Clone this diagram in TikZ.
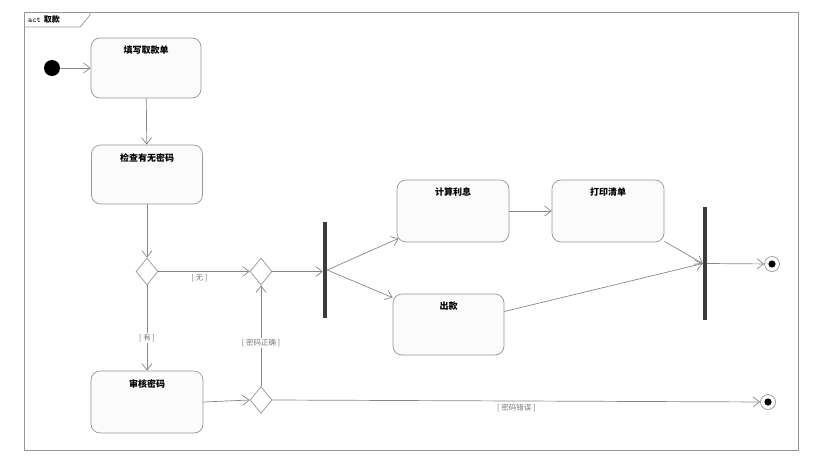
\documentclass[tikz,border=0pt]{standalone}
\usepackage{fontspec}
\newfontfamily\cjk{Noto Sans CJK SC}
\usetikzlibrary{shapes.geometric,arrows.meta}
\definecolor{edgec}{RGB}{135,135,135}
\definecolor{boxc}{RGB}{150,150,150}
\definecolor{fillc}{RGB}{251,251,251}
\definecolor{barc}{RGB}{60,60,60}
\definecolor{guardc}{RGB}{120,120,120}
\tikzset{
  actbox/.style={draw=boxc, fill=fillc, rounded corners=9pt, line width=0.7pt, inner sep=0pt},
  acttitle/.style={font=\cjk\bfseries\fontsize{9}{10}\selectfont, anchor=north, yshift=-5pt},
  decision/.style={draw=boxc, fill=white, diamond, inner sep=0pt, minimum width=22pt, minimum height=27pt, line width=0.7pt},
  bar/.style={fill=barc, draw=none, inner sep=0pt, minimum width=4pt},
  flow/.style={draw=edgec, line width=0.7pt, -{Straight Barb[length=6.5pt,width=10pt]}},
  guard/.style={font=\cjk\fontsize{7.5}{8}\selectfont, text=guardc, inner sep=1pt},
  startnode/.style={circle, fill=black, inner sep=0pt, minimum size=16pt},
  endring/.style={circle, draw=boxc, fill=white, line width=0.7pt, inner sep=0pt, minimum size=15pt},
}
\begin{document}
\begin{tikzpicture}[x=1pt,y=-1pt]
\useasboundingbox (0,0) rectangle (835,461);
% frame
\draw[boxc, line width=0.8pt] (24.5,12) rectangle (798,450);
\draw[boxc, line width=0.7pt] (24.5,27) -- (80,27) -- (90,15) -- (90,12);
\node[anchor=west, inner sep=0pt, font=\fontsize{8}{9}\selectfont] (tag) at (28,19.5) {\texttt{act}\ {\cjk\bfseries 取款}};
% nodes
\node[startnode] (start) at (52,68) {};
\node[actbox, minimum width=110pt, minimum height=60pt, label={[acttitle]north:填写取款单}] (fill) at (146,68) {};
\node[actbox, minimum width=111pt, minimum height=59pt, label={[acttitle]north:检查有无密码}] (check) at (147,174.5) {};
\node[decision] (d1) at (147,271.5) {};
\node[decision] (d2) at (261,271.5) {};
\node[actbox, minimum width=112pt, minimum height=62pt, label={[acttitle]north:审核密码}] (audit) at (147,402) {};
\node[decision] (d3) at (261,400) {};
\node[bar, minimum height=96pt] (fork) at (325,270) {};
\node[actbox, minimum width=112pt, minimum height=62pt, label={[acttitle]north:计算利息}] (calc) at (453,211) {};
\node[actbox, minimum width=112pt, minimum height=62pt, label={[acttitle]north:打印清单}] (print) at (608,211) {};
\node[actbox, minimum width=111pt, minimum height=61pt, label={[acttitle]north:出款}] (out) at (448.5,324.5) {};
\node[bar, minimum height=113pt] (join) at (705,263.5) {};
\node[endring] (f1) at (772,264) {};
\fill (f1) circle (3.6pt);
\node[endring] (f2) at (768,402) {};
\fill (f2) circle (3.6pt);
% connectors
\draw[flow] (start) -- (fill);
\draw[flow] (fill) -- (check);
\draw[flow] (check) -- (d1);
\draw[flow] (d1) -- node[guard, below=2pt, pos=0.45] {[ 无 ]} (d2);
\draw[flow] (d1) -- node[guard, fill=white, pos=0.62] {[ 有 ]} (audit);
\draw[flow] (audit.east) -- (d3.west);
\draw[flow] (d3) -- node[guard, fill=white, pos=0.43] {[ 密码正确 ]} (d2);
\draw[flow] (d3.east) -- node[guard, below=2pt, pos=0.5] {[ 密码错误 ]} (f2);
\draw[flow] (d2.east) -- (d2.east -| fork.west);
\draw[flow] (fork.east) -- ([shift={(2,-4)}]calc.south west);
\draw[flow] (fork.east) -- ([shift={(0,4)}]out.north west);
\draw[flow] (calc) -- (print);
\draw[flow] ([shift={(0,-1)}]print.south east) -- (join.west);
\draw[flow] ([shift={(0,-13)}]out.east) -- (join.west);
\draw[flow] (join.east) -- (f1);
\end{tikzpicture}
\end{document}
